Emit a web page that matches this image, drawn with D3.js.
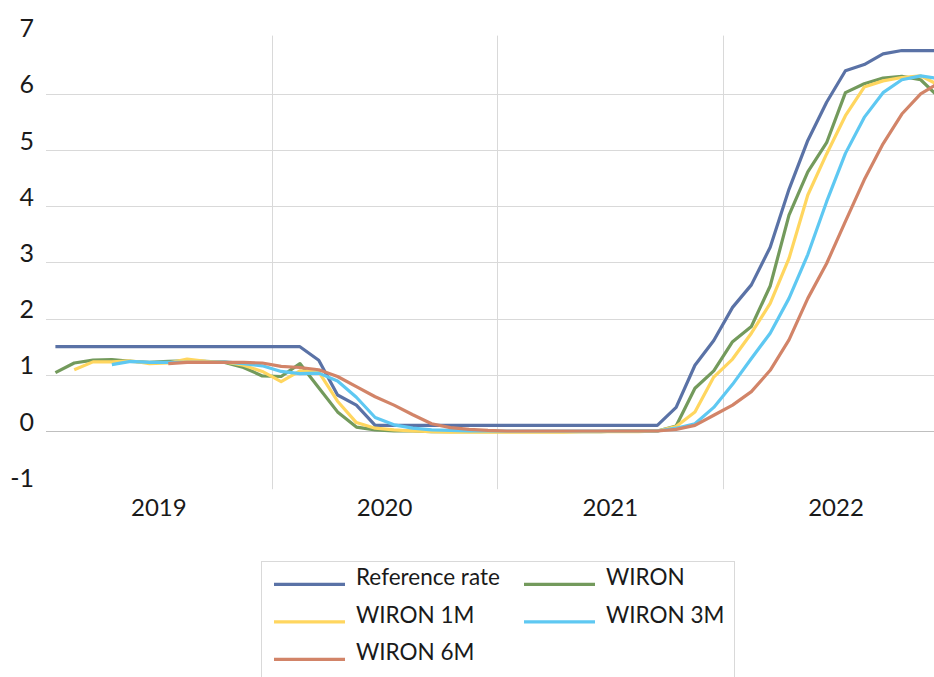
<!DOCTYPE html>
<html>
<head>
<meta charset="utf-8">
<script src="https://cdn.jsdelivr.net/npm/d3@7"></script>
<style>
  html, body { margin: 0; padding: 0; background: #fff; }
  svg { display: block; font-family: Lato, "Open Sans", sans-serif; }
</style>
</head>
<body>
<svg id="chart" width="934" height="677"></svg>
<script>
// Monthly observations, Jan 2019 – Dec 2022 (index 0 = Jan 2019)
const years = ["2019", "2020", "2021", "2022"];
const months = d3.range(48);
const yTicks = [-1, 0, 1, 2, 3, 4, 5, 6, 7];

const referenceRate = [
  1.5, 1.5, 1.5, 1.5, 1.5, 1.5, 1.5, 1.5, 1.5, 1.5, 1.5, 1.5,
  1.5, 1.5, 1.26, 0.64, 0.46, 0.1, 0.1, 0.1, 0.1, 0.1, 0.1, 0.1,
  0.1, 0.1, 0.1, 0.1, 0.1, 0.1, 0.1, 0.1, 0.1, 0.42, 1.17, 1.61,
  2.2, 2.6, 3.27, 4.3, 5.17, 5.85, 6.41, 6.52, 6.71, 6.77, 6.77, 6.77
];
const wiron = [
  1.04, 1.21, 1.26, 1.27, 1.24, 1.22, 1.24, 1.25, 1.24, 1.22, 1.13, 0.98,
  0.97, 1.2, 0.77, 0.34, 0.07, 0.02, 0.0, 0.0, -0.01, -0.01, -0.01, -0.01,
  -0.01, -0.01, -0.01, -0.01, -0.01, -0.01, 0.0, 0.0, 0.0, 0.09, 0.76, 1.07,
  1.59, 1.86, 2.58, 3.84, 4.61, 5.13, 6.02, 6.18, 6.28, 6.31, 6.25, 5.93
];
const wiron1M = [
  null, 1.09, 1.23, 1.23, 1.25, 1.2, 1.21, 1.28, 1.24, 1.23, 1.17, 1.06,
  0.88, 1.07, 1.05, 0.53, 0.15, 0.05, 0.02, 0.0, -0.01, -0.02, -0.02, -0.02,
  -0.02, -0.02, -0.02, -0.02, -0.01, -0.01, -0.01, -0.01, 0.0, 0.08, 0.34, 0.96,
  1.28, 1.74, 2.27, 3.07, 4.2, 4.93, 5.61, 6.12, 6.23, 6.29, 6.32, 6.15
];
const wiron3M = [
  null, null, null, 1.18, 1.24, 1.22, 1.22, 1.22, 1.22, 1.23, 1.2, 1.16,
  1.06, 1.02, 1.03, 0.89, 0.6, 0.24, 0.11, 0.05, 0.02, 0.01, 0.0, 0.0,
  0.0, 0.0, 0.0, 0.0, 0.0, 0.0, 0.0, 0.0, 0.0, 0.05, 0.13, 0.42,
  0.83, 1.29, 1.74, 2.36, 3.14, 4.08, 4.94, 5.58, 6.02, 6.25, 6.32, 6.27
];
const wiron6M = [
  null, null, null, null, null, null, 1.2, 1.22, 1.22, 1.22, 1.22, 1.21,
  1.15, 1.13, 1.09, 0.97, 0.79, 0.61, 0.46, 0.29, 0.13, 0.06, 0.03, 0.01,
  0.0, 0.0, 0.0, 0.0, 0.0, 0.0, 0.0, 0.0, 0.0, 0.03, 0.1, 0.28,
  0.46, 0.7, 1.08, 1.62, 2.36, 2.98, 3.73, 4.47, 5.11, 5.64, 6.0, 6.2
];

const seriesNames = ["Reference rate", "WIRON", "WIRON 1M", "WIRON 3M", "WIRON 6M"];
const seriesValues = [referenceRate, wiron, wiron1M, wiron3M, wiron6M];
const seriesColors = ["#5a72a6", "#739a5c", "#ffd65f", "#5ec8f2", "#d28468"];

const svg = d3.select("#chart");

const plotLeft = 46, monthWidth = 18.81;
const plotTop = 37.6, plotBottom = 487.2;

const x = d3.scaleBand()
  .domain(months)
  .range([plotLeft, plotLeft + monthWidth * months.length])
  .paddingInner(0).paddingOuter(0);
const xc = i => x(i) + x.bandwidth() / 2;

const y = d3.scaleLinear().domain([-1, 7]).range([plotBottom, plotTop]);

// horizontal gridlines (0..6)
svg.append("g")
  .selectAll("line")
  .data(yTicks.filter(v => v >= 0 && v <= 6))
  .join("line")
  .attr("x1", plotLeft).attr("x2", 934)
  .attr("y1", d => Math.round(y(d)) + 0.5).attr("y2", d => Math.round(y(d)) + 0.5)
  .attr("stroke", d => d === 0 ? "#bfbfbf" : "#d9d9d9")
  .attr("stroke-width", 1);

// vertical separators between years
const yearBand = d3.scaleBand().domain(years)
  .range([plotLeft, plotLeft + monthWidth * 12 * years.length]);
svg.append("g")
  .selectAll("line")
  .data(years.slice(1))
  .join("line")
  .attr("x1", d => Math.round(yearBand(d)) + 0.5)
  .attr("x2", d => Math.round(yearBand(d)) + 0.5)
  .attr("y1", plotTop - 2).attr("y2", plotBottom + 2)
  .attr("stroke", "#d9d9d9").attr("stroke-width", 1);

// y axis labels (plain hyphen for negatives)
const yAxis = d3.axisLeft(y).tickValues(yTicks).tickSize(0).tickPadding(12)
  .tickFormat(d => String(d));
const gy = svg.append("g").attr("transform", `translate(${plotLeft},0)`).call(yAxis);
gy.select(".domain").remove();
gy.selectAll("text")
  .attr("font-size", 25).attr("fill", "#1a1a1a")
  .attr("font-family", "Lato, 'Open Sans', sans-serif")
  .attr("dy", "-0.04em");

// year labels
const xAxis = d3.axisBottom(yearBand).tickSize(0).tickPadding(0);
const gx = svg.append("g").attr("transform", `translate(0,${plotBottom})`).call(xAxis);
gx.select(".domain").remove();
gx.selectAll("text")
  .attr("font-size", 24).attr("fill", "#1a1a1a")
  .attr("font-family", "Lato, 'Open Sans', sans-serif")
  .attr("y", 0).attr("dy", "1.2em");

// series lines
const line = d3.line()
  .defined(d => d.v !== null)
  .x(d => xc(d.i))
  .y(d => y(d.v));

svg.append("g")
  .selectAll("path")
  .data(seriesValues.map((vals, k) => ({ k, pts: vals.map((v, i) => ({ i, v })) })))
  .join("path")
  .attr("d", d => line(d.pts))
  .attr("fill", "none")
  .attr("stroke", d => seriesColors[d.k])
  .attr("stroke-width", 3.2)
  .attr("stroke-linejoin", "round");

// legend
const legend = svg.append("g");
legend.append("rect")
  .attr("x", 261.5).attr("y", 561.5)
  .attr("width", 473).attr("height", 140)
  .attr("fill", "#fff").attr("stroke", "#d9d9d9");

const legendCols = [274, 524];
const legendRows = [584.3, 621.8, 659.3];
const items = legend.selectAll("g.item")
  .data(seriesNames.map((name, k) => ({ name, k, col: k % 2, row: Math.floor(k / 2) })))
  .join("g").attr("class", "item")
  .attr("transform", d => `translate(${legendCols[d.col]},${legendRows[d.row]})`);
items.append("line")
  .attr("x1", 0).attr("x2", 71).attr("y1", 0).attr("y2", 0)
  .attr("stroke", d => seriesColors[d.k]).attr("stroke-width", 3.2);
items.append("text")
  .attr("x", 82).attr("y", 0.7)
  .attr("font-size", 22.5).attr("fill", "#1a1a1a")
  .text(d => d.name);
</script>
</body>
</html>
